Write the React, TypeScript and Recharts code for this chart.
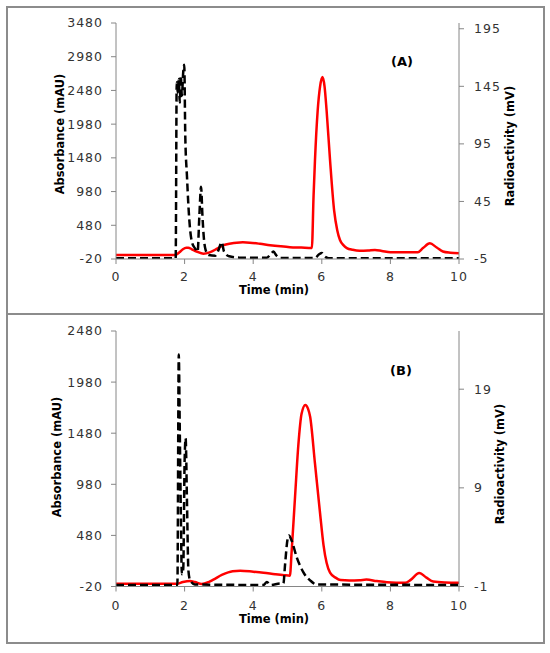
import React from "react";
import { ComposedChart, Line, XAxis, YAxis, Label } from "recharts";

// time axis (min)
const X_TICKS = [0, 2, 4, 6, 8, 10];

// panel A axis ticks
const A_ABS_TICKS = [-20, 480, 980, 1480, 1980, 2480, 2980, 3480];
const A_RAD_TICKS = [-5, 45, 95, 145, 195];

// panel B axis ticks
const B_ABS_TICKS = [-20, 480, 980, 1480, 1980, 2480];
const B_RAD_TICKS = [-1, 9, 19];

// panel A radioactivity trace (red, mV)
const A_RAD_T = [0, 1.72, 1.85, 1.95, 2.05, 2.11, 2.2, 2.35, 2.55, 2.75, 2.95, 3.13, 3.35, 3.52, 3.7, 3.9, 4.2, 4.49, 4.8, 5.07, 5.4, 5.71, 5.76, 5.8, 5.88, 5.95, 6.02, 6.08, 6.14, 6.24, 6.36, 6.45, 6.53, 6.63, 6.73, 6.9, 7.1, 7.35, 7.55, 7.75, 8.0, 8.4, 8.8, 8.95, 9.15, 9.35, 9.53, 9.75, 10];
const A_RAD_V = [-1.5, -1.5, 0.8, 3.5, 4.8, 4.8, 3.6, 1.5, -0.5, 1.0, 4.0, 7.0, 8.5, 9.2, 9.5, 9.2, 8.2, 7.0, 6.0, 5.3, 4.9, 4.5, 50, 80, 124, 145, 153, 145, 124, 81, 37, 20, 11.5, 7, 4.5, 3.0, 2.2, 2.4, 2.8, 2.0, 0.9, 0.8, 0.9, 4.5, 8.6, 5, 1.5, 0.4, -0.1];

// panel A absorbance trace (black dashed, mAU)
const A_ABS_T = [0, 1.74, 1.77, 1.8, 1.83, 1.86, 1.89, 1.92, 1.96, 1.99, 2.02, 2.07, 2.11, 2.16, 2.21, 2.3, 2.38, 2.43, 2.48, 2.52, 2.56, 2.61, 2.7, 2.9, 3.0, 3.08, 3.15, 3.3, 3.6, 4.4, 4.52, 4.59, 4.68, 4.8, 5.8, 5.92, 6.0, 6.08, 6.2, 10];
const A_ABS_V = [-8, -8, 2600, 2450, 2650, 2300, 2700, 2400, 2750, 2860, 1800, 1200, 780, 420, 240, 140, 90, 620, 1050, 620, 300, 120, 40, 30, 130, 230, 90, 20, 0, 0, 60, 90, 30, -5, -5, 50, 70, 20, -8, -8];

// panel B radioactivity trace (red, mV)
const B_RAD_T = [0, 1.77, 1.95, 2.16, 2.3, 2.5, 2.7, 2.84, 3.1, 3.4, 3.62, 4.0, 4.3, 4.64, 4.9, 5.07, 5.12, 5.22, 5.32, 5.41, 5.52, 5.6, 5.66, 5.8, 5.95, 6.05, 6.14, 6.24, 6.4, 6.55, 6.8, 7.1, 7.3, 7.6, 7.9, 8.43, 8.6, 8.84, 9.05, 9.25, 9.6, 10];
const B_RAD_V = [-0.73, -0.73, -0.55, -0.45, -0.55, -0.75, -0.55, -0.3, 0.2, 0.55, 0.6, 0.5, 0.4, 0.25, 0.15, 0.1, 2.5, 8.1, 13.5, 16.5, 17.4, 17.0, 16.2, 11.5, 6.4, 3.2, 1.4, 0.4, -0.1, -0.35, -0.38, -0.36, -0.3, -0.45, -0.57, -0.63, -0.3, 0.38, -0.1, -0.5, -0.6, -0.63];

// panel B absorbance trace (black dashed, mAU)
const B_ABS_T = [0, 1.79, 1.83, 1.86, 1.89, 1.92, 1.96, 2.0, 2.03, 2.07, 2.11, 2.16, 2.3, 4.3, 4.4, 4.5, 4.8, 4.88, 4.93, 5.0, 5.04, 5.12, 5.27, 5.46, 5.66, 5.85, 10];
const B_ABS_V = [-5, -5, 2250, 1500, 700, 100, 150, 1200, 1430, 800, 140, 40, 0, -5, 25, -5, 10, 10, 200, 440, 480, 430, 265, 120, 40, 0, -5];

const zip = (t: number[], v: number[]) => t.map((x, i) => ({ t: x, v: v[i] }));

const AXIS = "#868686";
const TICK = { fill: "#333", fontSize: 12.5, fontFamily: "DejaVu Sans", letterSpacing: 1 };
const TITLE: React.CSSProperties = { fontFamily: "DejaVu Sans", fontWeight: 700, fontSize: 11.5, fill: "#000" };

const vTitle = (x: number, y: number, text: string) => () => (
  <text x={x} y={y} transform={`rotate(-90 ${x} ${y})`} textAnchor="middle" dominantBaseline="central" style={TITLE}>
    {text}
  </text>
);

const hTitle = (x: number, y: number, text: string) => () => (
  <text x={x} y={y} textAnchor="middle" dominantBaseline="central" style={TITLE}>
    {text}
  </text>
);

type PanelProps = {
  top: number;
  height: number;
  marginTop: number;
  marginBottom: number;
  absDomain: [number, number];
  absTicks: number[];
  radDomain: [number, number];
  radTicks: number[];
  abs: { t: number; v: number }[];
  rad: { t: number; v: number }[];
  xTickMargin: number;
  absTitle: [number, number];
  radTitle: [number, number];
  timeTitle: [number, number];
  tag: string;
  tagPos: [number, number];
};

function Panel(p: PanelProps) {
  return (
    <div style={{ position: "absolute", left: 0, top: p.top, width: 550, height: p.height }}>
      <ComposedChart
        width={550}
        height={p.height}
        margin={{ top: p.marginTop, right: 0, bottom: p.marginBottom, left: 0 }}
      >
        <XAxis
          dataKey="t"
          type="number"
          domain={[0, 10]}
          ticks={X_TICKS}
          height={40}
          stroke={AXIS}
          tickSize={5}
          tickMargin={p.xTickMargin}
          tick={TICK}
          allowDuplicatedCategory={false}
        >
          <Label content={hTitle(p.timeTitle[0], p.timeTitle[1], "Time (min)")} />
        </XAxis>
        <YAxis
          yAxisId="abs"
          orientation="left"
          width={116}
          domain={p.absDomain}
          ticks={p.absTicks}
          allowDataOverflow
          stroke={AXIS}
          tickSize={5}
          tickMargin={8}
          tick={TICK}
        >
          <Label content={vTitle(p.absTitle[0], p.absTitle[1], "Absorbance (mAU)")} />
        </YAxis>
        <YAxis
          yAxisId="rad"
          orientation="right"
          width={91}
          domain={p.radDomain}
          ticks={p.radTicks}
          allowDataOverflow
          stroke={AXIS}
          tickSize={5}
          tickMargin={10}
          tick={TICK}
        >
          <Label content={vTitle(p.radTitle[0], p.radTitle[1], "Radioactivity (mV)")} />
        </YAxis>
        <Line
          yAxisId="rad"
          data={p.rad}
          dataKey="v"
          type="monotone"
          stroke="#ff0000"
          strokeWidth={2.5}
          dot={false}
          activeDot={false}
          isAnimationActive={false}
        />
        <Line
          yAxisId="abs"
          data={p.abs}
          dataKey="v"
          type="monotone"
          stroke="#000"
          strokeWidth={2.5}
          strokeDasharray="8 4"
          dot={false}
          activeDot={false}
          isAnimationActive={false}
        />
      </ComposedChart>
      <div
        style={{
          position: "absolute",
          left: p.tagPos[0] - 20,
          top: p.tagPos[1] - 8,
          width: 40,
          lineHeight: "16px",
          textAlign: "center",
          fontFamily: "DejaVu Sans",
          fontWeight: 700,
          fontSize: 13,
          color: "#000",
        }}
      >
        {p.tag}
      </div>
    </div>
  );
}

export default function App() {
  const frame: React.CSSProperties = {
    position: "absolute",
    left: 6,
    width: 539,
    border: "2px solid #8c8c8c",
    boxSizing: "border-box",
  };
  return (
    <div style={{ position: "absolute", left: 0, top: 0, width: 550, height: 653, background: "#fff" }}>
      <div style={{ ...frame, top: 6, height: 309 }} />
      <div style={{ ...frame, top: 313, height: 331 }} />
      <Panel
        top={0}
        height={314}
        marginTop={23}
        marginBottom={15}
        absDomain={[-20, 3480]}
        absTicks={A_ABS_TICKS}
        radDomain={[-5, 200]}
        radTicks={A_RAD_TICKS}
        abs={zip(A_ABS_T, A_ABS_V)}
        rad={zip(A_RAD_T, A_RAD_V)}
        xTickMargin={8}
        absTitle={[60, 134]}
        radTitle={[510, 146]}
        timeTitle={[274, 290]}
        tag="(A)"
        tagPos={[402, 62]}
      />
      <Panel
        top={314}
        height={330}
        marginTop={17}
        marginBottom={17.5}
        absDomain={[-20, 2480]}
        absTicks={B_ABS_TICKS}
        radDomain={[-1, 24.9]}
        radTicks={B_RAD_TICKS}
        abs={zip(B_ABS_T, B_ABS_V)}
        rad={zip(B_RAD_T, B_RAD_V)}
        xTickMargin={10}
        absTitle={[57, 143]}
        radTitle={[500, 150]}
        timeTitle={[274, 305]}
        tag="(B)"
        tagPos={[401, 57]}
      />
    </div>
  );
}
